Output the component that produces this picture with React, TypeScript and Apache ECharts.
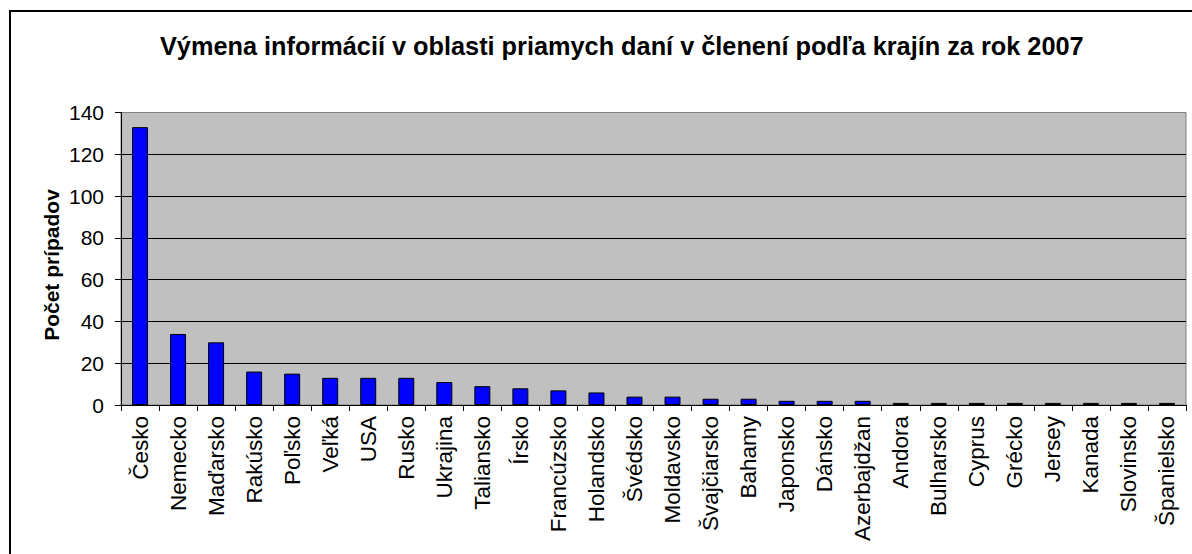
import React, { useEffect, useRef } from "react";
import * as echarts from "echarts";

const categories = [
  "Česko", "Nemecko", "Maďarsko", "Rakúsko", "Poľsko", "Veľká", "USA", "Rusko",
  "Ukrajina", "Taliansko", "Írsko", "Francúzsko", "Holandsko", "Švédsko",
  "Moldavsko", "Švajčiarsko", "Bahamy", "Japonsko", "Dánsko", "Azerbajdžan",
  "Andora", "Bulharsko", "Cyprus", "Grécko", "Jersey", "Kanada", "Slovinsko",
  "Španielsko",
];
const cases = [133, 34, 30, 16, 15, 13, 13, 13, 11, 9, 8, 7, 6, 4, 4, 3, 3, 2, 2, 2, 1, 1, 1, 1, 1, 1, 1, 1];
const yTicks = { min: 0, max: 140, interval: 20 };
const titleText = "Výmena informácií v oblasti priamych daní v členení podľa krajín za rok 2007";
const yAxisName = "Počet prípadov";

const FONT = "'Liberation Sans', Arial, sans-serif";

export default function App() {
  const ref = useRef<HTMLDivElement>(null);
  useEffect(() => {
    document.body.style.margin = "0";
    const chart = echarts.init(ref.current!, null, { renderer: "svg" });
    chart.setOption({
      animation: false,
      backgroundColor: "#ffffff",
      textStyle: { fontFamily: FONT },
      title: {
        text: titleText,
        left: 160,
        top: 33,
        padding: 0,
        textStyle: { fontFamily: FONT, fontSize: 25.3, fontWeight: "bold", color: "#000" },
      },
      graphic: [
        {
          type: "rect",
          shape: { x: 10, y: 11, width: 1250, height: 650 },
          style: { fill: "none", stroke: "#000", lineWidth: 2 },
          silent: true,
        },
        {
          type: "text",
          x: 51,
          y: 265,
          rotation: Math.PI / 2,
          style: {
            text: yAxisName,
            fontFamily: FONT,
            fontSize: 21,
            fontWeight: "bold",
            fill: "#000",
            align: "center",
            verticalAlign: "middle",
          },
          silent: true,
        },
      ],
      grid: {
        left: 121,
        top: 112.5,
        right: 6,
        bottom: 149,
        show: true,
        backgroundColor: "#C0C0C0",
        borderColor: "#808080",
        borderWidth: 1,
      },
      xAxis: {
        type: "category",
        data: categories,
        axisLine: { show: true, lineStyle: { color: "#000", width: 1 } },
        axisTick: { show: true, alignWithLabel: false, length: 6, inside: false, lineStyle: { color: "#000" } },
        axisLabel: {
          rotate: 90,
          interval: 0,
          fontSize: 22.5,
          color: "#000",
          fontFamily: FONT,
          margin: 11,
        },
        splitLine: { show: false },
      },
      yAxis: {
        type: "value",
        min: yTicks.min,
        max: yTicks.max,
        interval: yTicks.interval,
        axisLine: { show: true, lineStyle: { color: "#000", width: 1 } },
        axisTick: { show: true, length: 6, inside: false, lineStyle: { color: "#000" } },
        axisLabel: { fontSize: 21, color: "#000", fontFamily: FONT, margin: 17 },
        splitLine: {
          show: true,
          lineStyle: {
            color: ["#000", "#000", "#000", "#000", "#000", "#000", "#000", "#808080"],
            width: 1,
          },
        },
      },
      series: [
        {
          type: "bar",
          data: cases,
          barWidth: 16,
          itemStyle: { color: "#0000FF", borderColor: "#000", borderWidth: 1 },
        },
      ],
    });
    return () => chart.dispose();
  }, []);
  return <div ref={ref} style={{ width: 1192, height: 554 }} />;
}
